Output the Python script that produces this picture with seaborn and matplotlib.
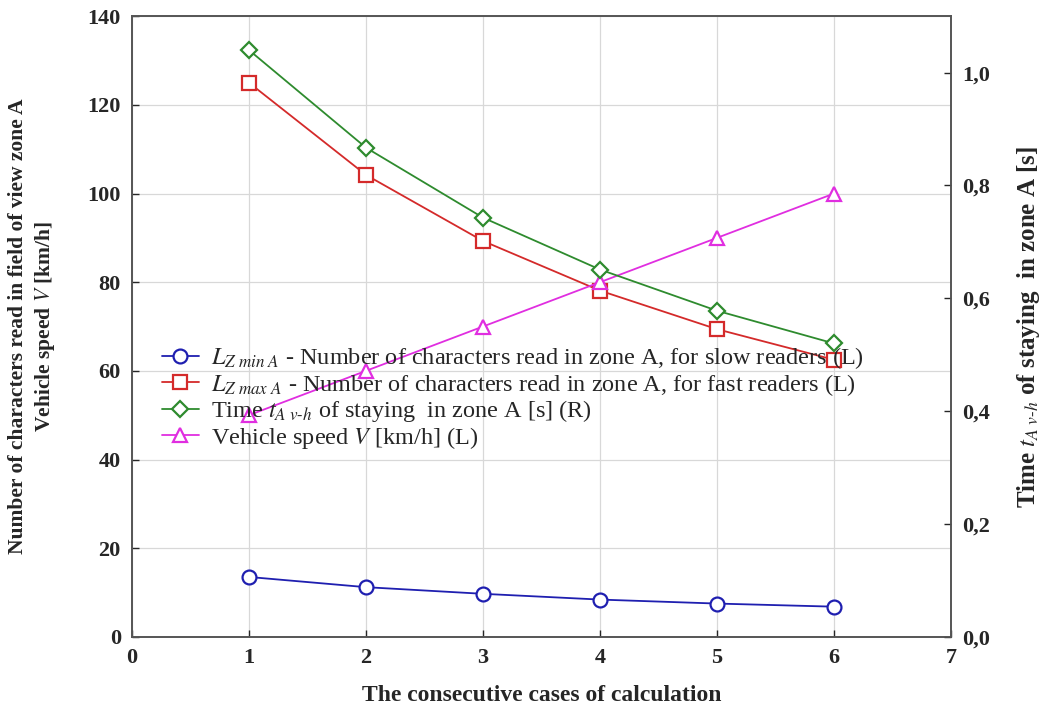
import matplotlib
matplotlib.use("Agg")
import matplotlib.pyplot as plt
import seaborn as sns
import pandas as pd
from matplotlib.ticker import FuncFormatter

sns.set_theme(style="ticks")
plt.rcParams['font.family'] = ['Liberation Serif', 'DejaVu Serif']
plt.rcParams['mathtext.fontset'] = 'stix'

cases      = [1, 2, 3, 4, 5, 6]
lz_min     = [13.5, 11.2, 9.7, 8.4, 7.5, 6.8]        # slow readers (L)
lz_max     = [125.0, 104.2, 89.3, 78.1, 69.4, 62.5]  # fast readers (L)
time_a     = [1.04, 0.867, 0.743, 0.651, 0.578, 0.52]  # time in zone A (R)
speed      = [50, 60, 70, 80, 90, 100]               # vehicle speed (L)

labels = [
    r"$L_{Z\ min\ A}$ - Number of characters read in zone A, for slow readers (L)",
    r"$L_{Z\ max\ A}$ - Number of characters read in zone A, for fast readers (L)",
    r"Time $t_{A\ v\text{-}h}$ of staying  in zone A [s] (R)",
    r"Vehicle speed $V$ [km/h] (L)",
]
colors = ['#1f1fb0', '#d42a2a', '#2e8b2e', '#e02ee0']

df = pd.DataFrame({"case": cases, "lzmin": lz_min, "lzmax": lz_max,
                   "time": time_a, "speed": speed})

fig = plt.figure(figsize=(10.5, 7.06), dpi=100)
ax = fig.add_axes([0.1257, 0.098, 0.78, 0.879])
ax2 = ax.twinx()

def mk(c, size=10):
    return dict(color=c, markersize=size, markerfacecolor='white', markeredgecolor=c,
                markeredgewidth=1.6, linewidth=1.3)

sns.lineplot(data=df, x="case", y="lzmin", ax=ax, marker='o', label=labels[0], **mk(colors[0]))
sns.lineplot(data=df, x="case", y="lzmax", ax=ax, marker='s', label=labels[1], **mk(colors[1]))
sns.lineplot(data=df, x="case", y="time", ax=ax2, marker='D', label=labels[2], **mk(colors[2], 8.5))
sns.lineplot(data=df, x="case", y="speed", ax=ax, marker='^', label=labels[3], **mk(colors[3]))

ax.set_xlim(0, 7)
ax.set_ylim(0, 140)
ax2.set_ylim(0, 1.1)
ax.set_xticks(range(0, 8))
ax.set_yticks(range(0, 141, 20))
ax2.set_yticks([0, 0.2, 0.4, 0.6, 0.8, 1.0])
ax2.yaxis.set_major_formatter(FuncFormatter(lambda v, p: f"{v:.1f}".replace('.', ',')))

ax.grid(True, color='#d8d8d8', linewidth=0.9)
for a in (ax, ax2):
    a.tick_params(direction='in', length=5, labelsize=16, width=1, pad=8)
    for t in a.get_xticklabels() + a.get_yticklabels():
        t.set_fontweight('bold')
    for s in a.spines.values():
        s.set_color('#555555')
        s.set_linewidth(1.2)

ax.set_xlabel("The consecutive cases of calculation", fontsize=17, fontweight='bold', labelpad=12)
ax.set_ylabel("Number of characters read in field of view zone A\nVehicle speed $V$ [km/h]",
              fontsize=15.5, fontweight='bold', labelpad=22, linespacing=1.3)
ax2.set_ylabel(r"Time $t_{A\ v\text{-}h}$ of staying  in zone A [s]", fontsize=18,
               fontweight='bold', labelpad=18)

h1, l1 = ax.get_legend_handles_labels()
h2, l2 = ax2.get_legend_handles_labels()
ax.get_legend().remove()
ax2.get_legend().remove()
handles = [h1[0], h1[1], h2[0], h1[2]]
ax2.legend(handles, labels, loc='upper left', bbox_to_anchor=(0.025, 0.485), frameon=False,
           fontsize=17.5, handlelength=1.5, labelspacing=0.02, borderaxespad=0, handletextpad=0.5)

fig.savefig("out.png", dpi=100)
